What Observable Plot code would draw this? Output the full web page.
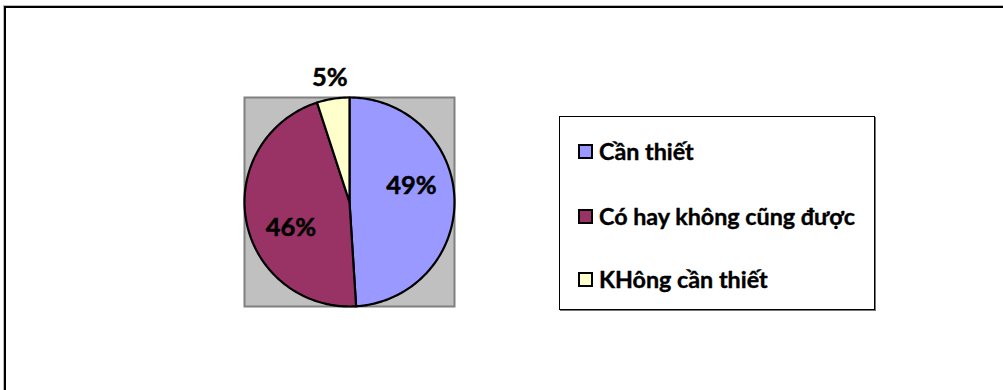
<!DOCTYPE html>
<html>
<head>
<meta charset="utf-8">
<script src="https://cdn.jsdelivr.net/npm/d3@7"></script>
<script src="https://cdn.jsdelivr.net/npm/@observablehq/plot@0.6"></script>
<style>
  html, body { margin: 0; padding: 0; background: #fff; }
  #wrap { position: relative; width: 1003px; height: 390px; overflow: hidden; }
  #outer { position: absolute; left: 4px; top: 6px; width: 1100px; height: 500px;
           border-top: 2px solid #000; border-left: 2px solid #000;
           box-shadow: -1px -1px 0 #bbb; }
  #chart { position: absolute; left: 0; top: 0; }
  #legend { position: absolute; left: 559px; top: 116px; width: 314px; height: 192px;
            border: 1px solid #000; background: #fff; box-shadow: 1px 1px 0 #777;
            font-family: Lato, "Open Sans", sans-serif; font-weight: bold; font-size: 23.3px; color: #000;
            -webkit-text-stroke: 0.4px #000; }
  .item { position: absolute; left: 18px; display: flex; align-items: center; white-space: nowrap; }
  .sw { width: 11px; height: 11px; border: 2px solid #000; margin-right: 6px; box-sizing: content-box;
        -webkit-text-stroke: 0; }
</style>
</head>
<body>
<div id="wrap">
  <div id="outer"></div>
  <div id="chart"></div>
  <div id="legend"></div>
</div>
<script>
const categories = ["Cần thiết", "Có hay không cũng được", "KHông cần thiết"];
const values = [49, 46, 5];
const valueLabels = ["49%", "46%", "5%"];

const sliceColors = ["#9999ff", "#993366", "#ffffcc"];

const arcs = d3.pie().sort(null)(values);
const step = Math.PI / 180;
const slicePoints = [];
arcs.forEach((a, i) => {
  const cat = categories[i];
  slicePoints.push({x: 0, y: 0, category: cat});
  const n = Math.max(2, Math.ceil((a.endAngle - a.startAngle) / step));
  for (let k = 0; k <= n; k++) {
    const t = a.startAngle + (a.endAngle - a.startAngle) * k / n;
    slicePoints.push({x: Math.sin(t), y: Math.cos(t), category: cat});
  }
});

const labelPos = arcs.map((a, i) => {
  const mid = (a.startAngle + a.endAngle) / 2;
  const share = values[i] / d3.sum(values);
  let ang, r;
  if (share < 0.1) { ang = mid; r = 1.2; }
  else { ang = mid - 13 * Math.PI / 180; r = 0.61; }
  return {x: r * Math.sin(ang), y: r * Math.cos(ang), label: valueLabels[i]};
});

const plot = Plot.plot({
  width: 1003,
  height: 390,
  marginLeft: 244,
  marginRight: 549,
  marginTop: 97,
  marginBottom: 84,
  x: {domain: [-1, 1], axis: null},
  y: {domain: [-1, 1], axis: null},
  color: {domain: categories, range: sliceColors},
  style: {background: "transparent", overflow: "visible"},
  marks: [
    Plot.frame({fill: "#c0c0c0", stroke: "#808080", strokeWidth: 2}),
    Plot.line(slicePoints, {x: "x", y: "y", z: "category", fill: "category", stroke: "#000",
      strokeWidth: 2.2, curve: "linear-closed", strokeLinejoin: "round"}),
    Plot.text(labelPos, {x: "x", y: "y", text: "label", fontSize: 25.5, fontWeight: "bold",
      fontFamily: "Lato, 'Open Sans', sans-serif", fill: "#000", stroke: "#000", strokeWidth: 0.5})
  ]
});
document.getElementById("chart").appendChild(plot);

const legend = document.getElementById("legend");
const itemTops = [34, 99, 162];
categories.forEach((c, i) => {
  const it = document.createElement("div");
  it.className = "item";
  it.style.top = (itemTops[i] - 14) + "px";
  it.style.height = "28px";
  const sw = document.createElement("div");
  sw.className = "sw";
  sw.style.background = sliceColors[i];
  const tx = document.createElement("span");
  tx.textContent = c;
  it.appendChild(sw);
  it.appendChild(tx);
  legend.appendChild(it);
});
</script>
</body>
</html>
